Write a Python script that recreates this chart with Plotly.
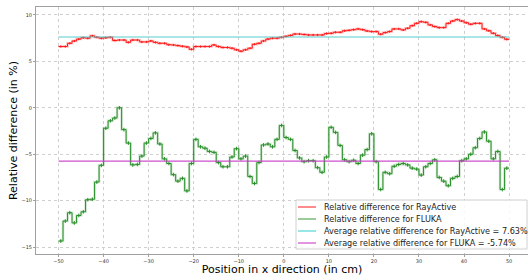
import plotly.graph_objects as go

# ---- data ----
x_edges = list(range(-50, 51))  # bin edges in cm (100 bins of 1 cm)

rayactive_diff = [
    6.6, 6.6, 6.95, 7.2, 7.4, 7.55, 7.5, 7.75, 7.6, 7.5,
    7.55, 7.6, 7.25, 7.3, 7.3, 7.05, 7.3, 7.3, 7.1, 7.1,
    7.2, 7.05, 6.95, 6.95, 6.8, 6.77, 6.7, 6.63, 6.56, 6.3,
    6.6, 6.6, 6.6, 6.6, 6.77, 6.6, 6.5, 6.5, 6.42, 6.25,
    6.1, 6.25, 6.42, 6.85, 6.95, 7.2, 7.4, 7.5, 7.5, 7.6,
    7.7, 7.8, 7.95, 7.95, 7.9, 7.85, 7.85, 7.85, 7.85, 8.0,
    8.03, 8.14, 8.14, 8.3, 8.35, 8.42, 8.5, 8.42, 8.28, 8.21,
    8.21, 7.93, 8.1, 8.21, 8.5, 8.5, 8.39, 8.57, 8.85, 9.1,
    9.28, 9.21, 8.93, 8.75, 8.64, 8.64, 9.1, 9.35, 9.5, 9.35,
    9.17, 9.0, 9.1, 9.1, 8.5, 8.3, 8.03, 7.78, 7.6, 7.38,
]

fluka_diff = [
    -14.35, -12.2, -11.3, -12.4, -11.6, -11.2, -9.9, -9.85, -8.0, -6.2,
    -2.2, -1.4, -1.1, 0.0, -2.35, -3.8, -6.15, -6.1, -5.2, -3.8,
    -3.3, -2.7, -3.9, -5.5, -6.0, -7.2, -7.9, -7.6, -8.95, -6.0,
    -3.4, -4.2, -4.35, -4.7, -4.8, -5.9, -6.35, -6.35, -5.3, -4.4,
    -5.5, -5.2, -7.4, -8.15, -5.9, -4.0, -3.9, -4.2, -3.4, -1.9,
    -3.2, -3.4, -4.6, -5.4, -5.8, -5.7, -5.7, -6.45, -6.95, -5.3,
    -2.1, -2.65, -4.05, -5.6, -5.8, -5.65, -6.0, -5.1, -4.5, -2.8,
    -5.8, -8.8, -6.95, -7.1, -6.3, -6.1, -6.0, -6.15, -6.5, -6.6,
    -7.25, -6.35, -6.0, -5.6, -7.5, -7.9, -8.4, -7.6, -7.4, -5.7,
    -5.5, -5.0, -4.3, -3.3, -2.6, -3.6, -5.5, -4.7, -8.8, -6.5,
]

avg_rayactive = 7.63
avg_fluka = -5.74
ray_err = 0.12
fluka_err = 0.2

x_ticks = [-50, -40, -30, -20, -10, 0, 10, 20, 30, 40, 50]
y_ticks = [-15, -10, -5, 0, 5, 10]

legend_labels = [
    "Relative difference for RayActive",
    "Relative difference for FLUKA",
    "Average relative difference for RayActive = %.2f%%" % avg_rayactive,
    "Average relative difference for FLUKA = %.2f%%" % avg_fluka,
]
legend_colors = [
    "rgba(255,0,0,0.45)",
    "rgba(34,139,34,0.45)",
    "rgba(70,210,210,0.55)",
    "rgba(200,60,200,0.55)",
]

FONT = "DejaVu Sans"
RED = "#ff1a1a"
GREEN = "#2a8f2a"

centers = [(a + b) / 2 for a, b in zip(x_edges[:-1], x_edges[1:])]


def step_y(vals):
    return list(vals) + [vals[-1]]


fig = go.Figure()

# pale halo lines
fig.add_trace(go.Scatter(
    x=x_edges, y=step_y(rayactive_diff), mode="lines", line_shape="hv",
    line=dict(color="rgba(255,0,0,0.22)", width=2.5),
    name=legend_labels[0], showlegend=False))
fig.add_trace(go.Scatter(
    x=x_edges, y=step_y(fluka_diff), mode="lines", line_shape="hv",
    line=dict(color="rgba(34,139,34,0.22)", width=2.5),
    name=legend_labels[1], showlegend=False))

# solid thin step lines
fig.add_trace(go.Scatter(
    x=x_edges, y=step_y(rayactive_diff), mode="lines", line_shape="hv",
    line=dict(color=RED, width=1), showlegend=False, hoverinfo="skip"))
fig.add_trace(go.Scatter(
    x=x_edges, y=step_y(fluka_diff), mode="lines", line_shape="hv",
    line=dict(color=GREEN, width=1), showlegend=False, hoverinfo="skip"))

# error ticks at bin centres
fig.add_trace(go.Scatter(
    x=centers, y=rayactive_diff, mode="markers", marker=dict(size=1, color=RED),
    error_y=dict(type="constant", value=ray_err, color=RED, thickness=1, width=0),
    showlegend=False, hoverinfo="skip"))
fig.add_trace(go.Scatter(
    x=centers, y=fluka_diff, mode="markers", marker=dict(size=1, color=GREEN),
    error_y=dict(type="constant", value=fluka_err, color=GREEN, thickness=1, width=0),
    showlegend=False, hoverinfo="skip"))

# averages
span = [x_edges[0], x_edges[-1]]
fig.add_trace(go.Scatter(
    x=span, y=[avg_rayactive] * 2, mode="lines",
    line=dict(color="rgba(70,200,200,0.9)", width=1.2),
    name=legend_labels[2], showlegend=False))
fig.add_trace(go.Scatter(
    x=span, y=[avg_fluka] * 2, mode="lines",
    line=dict(color="rgba(200,60,200,0.9)", width=1.2),
    name=legend_labels[3], showlegend=False))

axis_common = dict(
    showgrid=True, gridcolor="#cfcfcf", griddash="dot", gridwidth=0.8,
    zeroline=False, showline=True, linecolor="#a0a0a0", linewidth=1,
    ticks="outside", ticklen=2, tickcolor="#a0a0a0", tickwidth=0.8,
    tickfont=dict(family=FONT, size=5, color="#333333"),
)

# ---- custom compact legend (matplotlib-like) ----
L, T, PW, PH, B = 36, 7, 492, 247, 254


def px_x(p):
    return (p - L) / PW


def px_y(p):
    return (B - p) / PH


shapes = [dict(type="rect", xref="paper", yref="paper",
               x0=px_x(296), x1=px_x(527), y0=px_y(249), y1=px_y(200),
               fillcolor="rgba(255,255,255,0.85)", line=dict(color="#d0d0d0", width=1),
               layer="above")]
annotations = []
row_y = [207, 219, 231, 243]
for lab, col, ry in zip(legend_labels, legend_colors, row_y):
    shapes.append(dict(type="line", xref="paper", yref="paper",
                       x0=px_x(298), x1=px_x(316), y0=px_y(ry), y1=px_y(ry),
                       line=dict(color=col, width=2), layer="above"))
    annotations.append(dict(text=lab, xref="paper", yref="paper",
                            x=px_x(322), y=px_y(ry), xanchor="left", yanchor="middle",
                            showarrow=False,
                            font=dict(family=FONT, size=8.1, color="#222222")))

fig.update_layout(
    width=528, height=276,
    margin=dict(l=L, r=0, t=T, b=276 - B),
    paper_bgcolor="white", plot_bgcolor="white",
    font=dict(family=FONT),
    showlegend=False,
    shapes=shapes, annotations=annotations,
    xaxis=dict(range=[-55, 54.2], tickvals=x_ticks, mirror=True,
               title=dict(text="Position in x direction (in cm)",
                          font=dict(family=FONT, size=11, color="black"), standoff=7),
               automargin=False, **axis_common),
    yaxis=dict(range=[-15.75, 10.86], tickvals=y_ticks,
               title=dict(text="Relative difference (in %)",
                          font=dict(family=FONT, size=11, color="black"), standoff=1),
               automargin=False, **axis_common),
)

fig.write_html("out.html", config={"displayModeBar": False},
               post_script="document.body.style.margin='0';document.body.style.padding='0';")
